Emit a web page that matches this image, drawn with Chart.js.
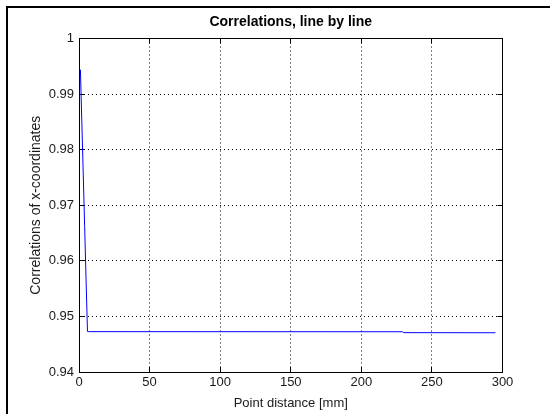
<!DOCTYPE html>
<html>
<head>
<meta charset="utf-8">
<script src="https://cdn.jsdelivr.net/npm/chart.js@4.4.1/dist/chart.umd.min.js"></script>
<style>
  html, body { margin: 0; padding: 0; background: #fff; }
  #wrap { position: relative; width: 550px; height: 414px; overflow: hidden; background: #fff; }
  #frame { position: absolute; left: 6px; top: 6px; width: 700px; height: 600px;
           border-left: 2px solid #000; border-top: 2px solid #000; pointer-events: none; }
  canvas { position: absolute; left: 0; top: 0; }
</style>
</head>
<body>
<div id="wrap">
  <canvas id="c" width="550" height="414"></canvas>
  <div id="frame"></div>
</div>
<script>
// ---- data ----
const distances    = [1, 2, 3, 4, 5, 6, 7, 229, 230, 295];
const correlations = [0.9944, 0.9850, 0.9756, 0.9662, 0.9567, 0.9473, 0.94726, 0.94724, 0.94708, 0.94706];

const xTickValues = [0, 50, 100, 150, 200, 250, 300];
const xTickLabels = ['0', '50', '100', '150', '200', '250', '300'];
const yTickValues = [0.94, 0.95, 0.96, 0.97, 0.98, 0.99, 1];
const yTickLabels = ['0.94', '0.95', '0.96', '0.97', '0.98', '0.99', '1'];

const titleText  = 'Correlations, line by line';
const xLabelText = 'Point distance [mm]';
const yLabelText = 'Correlations of x-coordinates';

// ---- chart ----
Chart.defaults.font.family = "'Liberation Sans', Arial, Helvetica, sans-serif";
Chart.defaults.color = '#1a1a1a';

const points = distances.map((d, i) => ({ x: d, y: correlations[i] }));
const tickFont = { size: 13 };

function setTicks(values) {
  return function (scale) { scale.ticks = values.map(v => ({ value: v })); };
}

const gridMain = {
  display: true, drawOnChartArea: true, drawTicks: true,
  color: '#000', lineWidth: 1,
  tickLength: -5, tickColor: '#000', tickWidth: 1, tickBorderDash: []
};
const gridSide = Object.assign({}, gridMain, { drawOnChartArea: false });
const borderOpts = { display: true, color: '#000', width: 1, dash: [1, 3] };

new Chart(document.getElementById('c'), {
  type: 'scatter',
  data: {
    datasets: [{
      data: points,
      showLine: true,
      borderColor: '#0000ff',
      backgroundColor: '#0000ff',
      borderWidth: 1,
      pointRadius: 0,
      tension: 0,
      fill: false
    }]
  },
  options: {
    responsive: false,
    animation: false,
    devicePixelRatio: 1,
    layout: { padding: 0 },
    plugins: { legend: { display: false }, title: { display: false }, tooltip: { enabled: false } },
    scales: {
      x: {
        type: 'linear', position: 'bottom', min: 0, max: 300,
        afterBuildTicks: setTicks(xTickValues),
        afterFit: s => { s.height = 42; },
        grid: gridMain, border: borderOpts,
        ticks: { font: tickFont, padding: 8, maxRotation: 0, autoSkip: false,
                 callback: (v, i) => xTickLabels[i] },
        title: { display: true, text: xLabelText, font: { size: 13 }, padding: { top: 0, bottom: 2.4 }, color: '#1a1a1a' }
      },
      y: {
        type: 'linear', position: 'left', min: 0.94, max: 1,
        afterBuildTicks: setTicks(yTickValues),
        afterFit: s => { s.width = 79; },
        grid: gridMain, border: borderOpts,
        ticks: { font: tickFont, padding: 10, autoSkip: false,
                 callback: (v, i) => yTickLabels[i] },
        title: { display: true, text: yLabelText, font: { size: 14 }, padding: { top: 27.5, bottom: 0 }, color: '#1a1a1a' }
      },
      x2: {
        type: 'linear', position: 'top', min: 0, max: 300,
        afterBuildTicks: setTicks(xTickValues),
        afterFit: s => { s.height = 38.5; },
        grid: gridSide, border: borderOpts,
        ticks: { display: false },
        title: { display: true, text: titleText, font: { size: 14, weight: 'bold' }, padding: { top: 14, bottom: 0 }, color: '#000' }
      },
      y2: {
        type: 'linear', position: 'right', min: 0.94, max: 1,
        afterBuildTicks: setTicks(yTickValues),
        afterFit: s => { s.width = 47.5; },
        grid: gridSide, border: borderOpts,
        ticks: { display: false }
      }
    }
  }
});
</script>
</body>
</html>
